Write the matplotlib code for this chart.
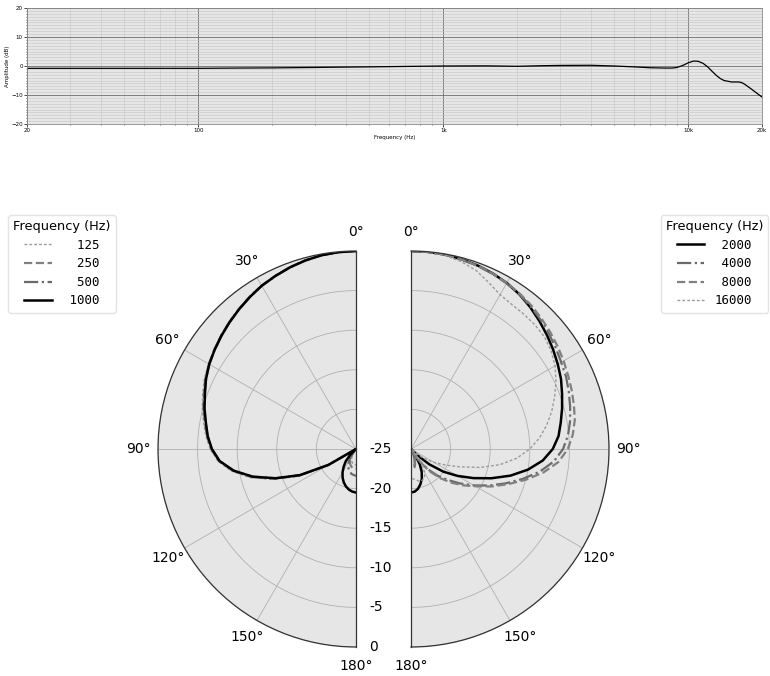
import numpy as np
import matplotlib
matplotlib.use("Agg")
import matplotlib.pyplot as plt
from matplotlib.ticker import FixedLocator, FixedFormatter, MultipleLocator, NullFormatter

# frequency response (Hz, dB)
fr_freq = [20, 30, 50, 70, 100, 150, 200, 300, 500, 700, 1000, 1500, 2000, 2500, 3000, 4000,
           5000, 6000, 7000, 8000, 8600, 9000, 9500, 10000, 10500, 11000, 11500, 12000,
           12500, 13000, 13500, 14000, 15000, 16000, 16500, 17000, 18000, 19000, 20000]
fr_amp = [-0.8, -0.8, -0.8, -0.8, -0.8, -0.7, -0.65, -0.5, -0.3, -0.15, 0.0, 0.05, -0.1, 0.1,
          0.2, 0.25, 0.0, -0.3, -0.6, -0.7, -0.7, -0.5, 0.2, 1.1, 1.7, 1.6, 0.9, -0.3,
          -1.8, -3.2, -4.3, -5.0, -5.5, -5.5, -5.7, -6.3, -7.8, -9.3, -10.7]

# polar patterns, angle in degrees, level in dB
angles = list(range(0, 181, 5))

left_labels = ["125", "250", "500", "1000"]
right_labels = ["2000", "4000", "8000", "16000"]

r125 = [0.0, -0.05, -0.15, -0.3, -0.55, -0.85, -1.15, -1.5, -1.9, -2.3, -2.7, -3.1, -3.5,
        -3.9, -4.4, -4.9, -5.45, -5.95, -6.6, -7.5, -9.0, -11.1, -13.8, -16.9, -20.6, -24.5,
        -25.0, -25.0, -25.0, -24.6, -24.1, -23.7, -23.4, -23.2, -23.1, -23.0, -23.0]
r250 = [0.0, -0.05, -0.15, -0.32, -0.57, -0.87, -1.17, -1.55, -1.95, -2.35, -2.75, -3.15, -3.55,
        -4.0, -4.55, -5.05, -5.6, -6.1, -6.7, -7.6, -9.2, -11.3, -14.0, -17.0, -20.8, -24.8,
        -25.0, -25.0, -24.8, -24.2, -23.6, -23.2, -22.9, -22.7, -22.6, -22.5, -22.5]
r500 = [0.0, -0.05, -0.15, -0.35, -0.6, -0.9, -1.2, -1.6, -2.0, -2.4, -2.8, -3.2, -3.6,
        -4.1, -4.6, -5.1, -5.7, -6.2, -6.8, -7.7, -9.3, -11.5, -14.2, -17.2, -21.0, -25.0,
        -25.0, -25.0, -24.5, -23.8, -23.2, -22.7, -22.3, -22.0, -21.8, -21.7, -21.6]
r1000 = [0.0, -0.05, -0.15, -0.35, -0.6, -0.9, -1.2, -1.6, -2.0, -2.4, -2.8, -3.2, -3.6,
         -4.1, -4.7, -5.2, -5.75, -6.2, -6.8, -7.7, -9.3, -11.5, -14.2, -17.2, -21.0, -25.0,
         -25.0, -24.0, -23.0, -22.3, -21.6, -21.0, -20.5, -20.1, -19.8, -19.6, -19.5]

r2000 = [0.0, -0.02, -0.08, -0.2, -0.35, -0.55, -0.8, -1.15, -1.6, -2.1, -2.6, -3.1, -3.6,
         -4.1, -4.7, -5.25, -5.8, -6.3, -7.1, -8.3, -10.0, -12.0, -14.2, -16.3, -18.2, -20.0,
         -22.0, -24.0, -25.0, -24.2, -22.8, -21.8, -21.0, -20.4, -19.9, -19.6, -19.5]
r4000 = [0.0, -0.03, -0.1, -0.25, -0.4, -0.6, -0.85, -1.15, -1.5, -1.9, -2.3, -2.7, -3.1,
         -3.4, -3.8, -4.2, -4.6, -5.1, -5.8, -6.9, -8.5, -10.4, -12.3, -14.1, -15.8, -17.4,
         -18.9, -20.2, -21.6, -23.2, -25.0, -24.4, -23.6, -23.0, -22.6, -22.4, -22.3]
r8000 = [0.0, -0.03, -0.1, -0.22, -0.38, -0.55, -0.8, -1.05, -1.35, -1.7, -2.05, -2.4, -2.75,
         -3.1, -3.4, -3.7, -4.0, -4.5, -5.2, -6.3, -8.0, -10.0, -12.0, -13.8, -15.6, -17.0,
         -18.4, -19.8, -21.3, -23.0, -25.0, -24.6, -23.8, -23.2, -22.8, -22.6, -22.5]
r16000 = [0.0, -0.05, -0.2, -0.5, -1.0, -1.8, -2.5, -2.75, -2.8, -2.85, -3.0, -3.4, -4.0,
          -4.8, -5.7, -6.6, -7.6, -8.7, -10.0, -11.6, -13.6, -16.0, -18.4, -20.2, -21.6, -22.8,
          -23.8, -25.0, -24.0, -22.5, -21.5, -21.0, -20.8, -20.8, -21.0, -21.2, -21.3]

left_data = [r125, r250, r500, r1000]
right_data = [r2000, r4000, r8000, r16000]

left_styles = [dict(color="#9a9a9a", ls=(0, (2, 1.5)), lw=1.0),
               dict(color="#808080", ls="--", lw=1.6),
               dict(color="#6a6a6a", ls="-.", lw=1.6),
               dict(color="black", ls="-", lw=1.8)]
right_styles = [dict(color="black", ls="-", lw=1.8),
                dict(color="#6a6a6a", ls="-.", lw=1.6),
                dict(color="#808080", ls="--", lw=1.6),
                dict(color="#9a9a9a", ls=(0, (2, 1.5)), lw=1.0)]

face = "#e6e6e6"

fig = plt.figure(figsize=(7.7, 6.76), dpi=100)

# ---- frequency response ----
ax = fig.add_axes([27 / 770, 1 - 124 / 676, 735 / 770, 116 / 676])
ax.set_facecolor(face)
ax.semilogx(fr_freq, fr_amp, color="black", lw=0.9)
ax.set_xlim(20, 20000)
ax.set_ylim(-20, 20)
ax.xaxis.set_major_locator(FixedLocator([20, 100, 1000, 10000, 20000]))
ax.xaxis.set_major_formatter(FixedFormatter(["20", "100", "1k", "10k", "20k"]))
ax.xaxis.set_minor_formatter(NullFormatter())
ax.yaxis.set_major_locator(MultipleLocator(10))
ax.yaxis.set_minor_locator(MultipleLocator(1))
ax.grid(which="major", color="#6e6e6e", lw=0.6)
ax.grid(which="minor", color="#c4c4c4", lw=0.4)
ax.tick_params(labelsize=4, length=2, width=0.5, pad=1)
ax.tick_params(which="minor", length=1, width=0.4)
ax.set_xlabel("Frequency (Hz)", fontsize=4, labelpad=1)
ax.set_ylabel("Amplitude (dB)", fontsize=4, labelpad=1)
for s in ax.spines.values():
    s.set_color("#888888")
    s.set_linewidth(0.6)


def half_polar(rect, direction, labels, data, styles, show_r):
    p = fig.add_axes(rect, projection="polar")
    p.set_facecolor(face)
    p.set_theta_zero_location("N")
    p.set_theta_direction(direction)
    p.set_thetamin(0)
    p.set_thetamax(180)
    p.set_rlim(-25, 0)
    p.set_xticks(np.radians(np.arange(0, 181, 30)))
    p.set_yticks([-25, -20, -15, -10, -5, 0])
    p.set_yticklabels(["-25", "-20", "-15", "-10", "-5", "0"])
    p.tick_params(labelsize=10)
    p.tick_params(axis="y", pad=6)
    p.yaxis.set_tick_params(label1On=False, label2On=show_r)
    p.grid(color="#b0b0b0", lw=0.6)
    for s in p.spines.values():
        s.set_color("#333333")
        s.set_linewidth(0.9)
    th = np.radians(angles)
    for lab, r, st in zip(labels, data, styles):
        p.plot(th, r, label=f"{lab:>5}", **st)
    return p


# square boxes, the half disc is centred inside
pl = half_polar([59 / 770, 1 - 647 / 676, 396 / 770, 396 / 676], 1,
                left_labels, left_data, left_styles, True)
pr = half_polar([312 / 770, 1 - 647 / 676, 396 / 770, 396 / 676], -1,
                right_labels, right_data, right_styles, False)

mono = {"family": "DejaVu Sans Mono", "size": 9}
for p, loc, x in [(pl, "upper left", 8 / 770), (pr, "upper right", 768 / 770)]:
    fig.legend(*p.get_legend_handles_labels(), loc=loc,
               bbox_to_anchor=(x, 1 - 215 / 676), title="Frequency (Hz)",
               title_fontsize=9.3, prop=mono, frameon=True, edgecolor="#dddddd",
               handlelength=2.2, borderaxespad=0, labelspacing=0.45)

fig.savefig("out.png", dpi=100)
